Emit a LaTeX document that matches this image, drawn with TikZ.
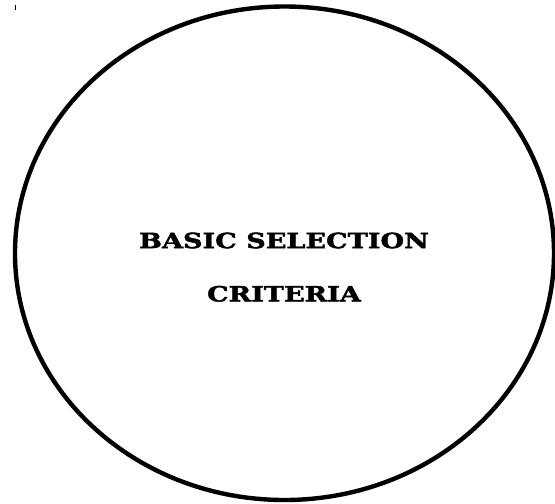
\documentclass[tikz,border=0pt]{standalone}
\usepackage{fontspec}
\setmainfont{DejaVu Serif}
\newfontfamily\critfont[FakeStretch=1.29, FakeBold=2]{DejaVu Serif}
\usetikzlibrary{positioning,shapes.geometric}

\begin{document}
\begin{tikzpicture}[
        x=1pt, y=-1pt,
        crit/.style={ellipse, draw, line width=4.4pt, minimum width=539pt,
                     minimum height=493.5pt, inner sep=0pt},
        lbl/.style={font=\critfont\bfseries\fontsize{21}{24}\selectfont, inner sep=0pt}
    ]
        \useasboundingbox (0,0) rectangle (555,504);
        \node[crit] (oval) at (284.5,253.25) {};
        \node[lbl] (basic) at (284,240.5) {BASIC SELECTION};
        \node[lbl, below=37pt of basic] (criteria) {CRITERIA};
        % small mark top left
        \draw[line width=0.8pt] (15,5) -- (15,10);
    \end{tikzpicture}
\end{document}
